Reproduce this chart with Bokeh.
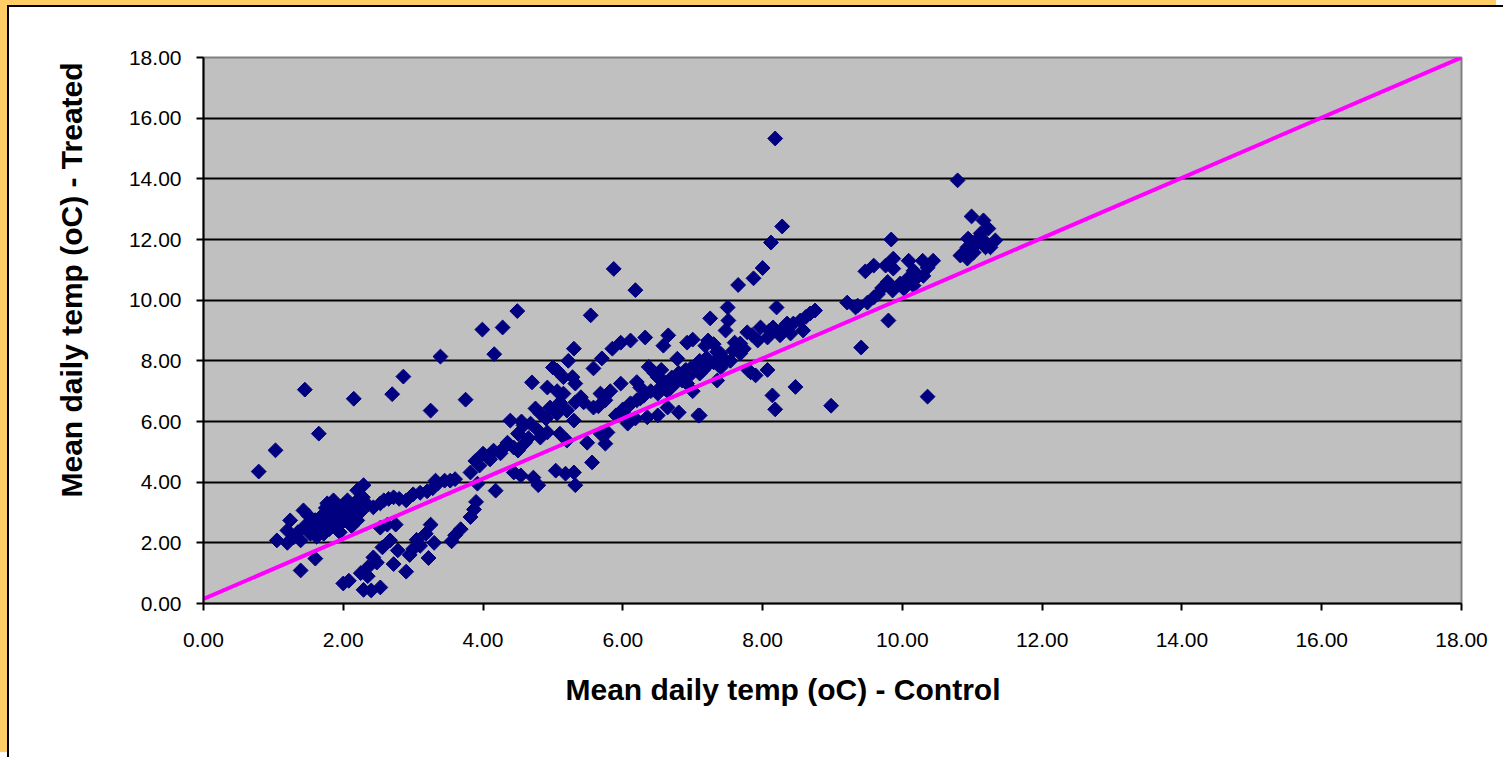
import numpy as np
from bokeh.plotting import figure
from bokeh.models import FixedTicker, NumeralTickFormatter, Range1d, Title
from bokeh.embed import file_html
from bokeh.resources import INLINE

# ---- data ----
outliers_x = [0.79, 1.03, 1.05, 1.45, 1.65, 2.15, 2.70, 2.86, 3.25, 3.39, 3.75, 3.99,
              4.16, 4.28, 4.49, 5.54, 5.87, 6.18, 8.18, 8.28, 8.12, 10.79, 9.84,
              9.80, 9.41, 8.98, 10.36, 8.47, 8.18, 8.14, 7.10, 8.07, 7.90, 7.80, 7.35]
outliers_y = [4.35, 5.05, 2.08, 7.05, 5.60, 6.75, 6.90, 7.48, 6.36, 8.14, 6.72, 9.03,
              8.22, 9.10, 9.64, 9.50, 11.03, 10.33, 15.33, 12.43, 11.90, 13.95, 12.00,
              9.33, 8.44, 6.52, 6.82, 7.14, 6.40, 6.86, 6.20, 7.70, 7.52, 7.68, 7.35]

left_x = [1.20, 1.24, 1.29, 1.20, 1.39, 1.39, 1.43, 1.53, 1.57, 1.60, 1.67, 1.72,
          1.77, 1.82, 1.86, 1.96, 1.96, 2.06, 2.10, 2.15, 2.20, 2.20, 2.29, 1.50,
          1.55, 1.60, 1.65, 1.70, 1.75, 1.80, 1.85, 1.88, 1.90, 1.93, 1.98, 2.00,
          2.03, 2.08, 2.12, 2.18, 2.24, 2.28, 1.45, 1.35, 1.75, 1.95, 2.00, 1.62]
left_y = [2.00, 2.74, 2.18, 2.41, 2.08, 1.09, 3.07, 2.30, 2.64, 1.48, 2.84, 2.30,
          3.30, 2.74, 3.40, 3.17, 2.64, 3.40, 2.84, 3.17, 2.74, 3.73, 3.90, 2.90,
          2.50, 2.75, 2.45, 2.60, 2.95, 2.45, 3.10, 2.80, 3.00, 2.55, 2.95, 3.25,
          2.75, 3.05, 2.55, 3.35, 3.00, 3.50, 2.55, 2.35, 3.15, 2.35, 2.85, 2.20]

band_low_x = [2.35, 2.43, 2.53, 2.58, 2.65, 2.72, 2.80, 2.90, 3.00, 3.10, 3.20, 3.28,
              3.35, 3.45, 3.53, 3.32, 3.60, 2.53, 2.63, 2.75]
band_low_y = [3.25, 3.17, 3.30, 3.40, 3.45, 3.50, 3.45, 3.40, 3.60, 3.65, 3.70, 3.80,
              3.95, 4.05, 4.05, 4.05, 4.10, 2.50, 2.60, 2.60]

branch_x = [2.00, 2.08, 2.29, 2.35, 2.40, 2.53, 2.35, 2.25, 2.43, 2.48, 2.56, 2.67,
            2.78, 2.72, 2.90, 2.95, 3.00, 3.05, 3.10, 3.18, 3.22, 3.25, 3.30, 3.55,
            3.60, 3.68, 3.82, 3.87, 3.90]
branch_y = [0.66, 0.75, 0.45, 0.90, 0.43, 0.53, 1.19, 1.00, 1.52, 1.35, 1.85, 2.08,
            1.75, 1.30, 1.05, 1.60, 1.80, 2.10, 1.90, 2.30, 1.50, 2.60, 2.00, 2.05,
            2.25, 2.45, 2.85, 3.10, 3.35]

mid_x = [3.82, 3.89, 3.92, 4.00, 4.08, 4.15, 4.30, 4.44, 4.50, 4.60, 4.39, 4.58,
         4.68, 4.75, 4.82, 4.96, 5.06, 4.79, 4.92, 5.10, 5.20, 4.82, 4.44, 4.54,
         4.72, 4.79, 5.04, 5.18, 5.30, 5.32, 4.18, 4.70, 4.92, 5.00, 5.06, 5.15,
         5.22, 5.30, 5.28, 5.32, 5.06, 5.15, 5.10, 5.20, 5.30, 5.32, 5.40, 5.44,
         4.35, 4.50, 4.65, 4.90, 4.25, 4.10, 3.95, 4.55]
mid_y = [4.32, 4.70, 3.95, 4.94, 4.81, 5.04, 5.14, 5.14, 5.04, 5.30, 6.03, 5.87,
         5.93, 6.43, 6.26, 6.46, 6.26, 5.70, 5.64, 5.60, 5.37, 5.47, 4.32, 4.22,
         4.15, 3.90, 4.38, 4.28, 4.32, 3.90, 3.72, 7.29, 7.12, 7.78, 7.68, 7.46,
         8.00, 8.40, 7.46, 7.25, 7.00, 6.92, 6.63, 6.36, 6.03, 6.63, 6.80, 6.63,
         5.30, 5.60, 5.45, 6.10, 4.95, 4.75, 4.55, 6.00]

upper_x = [5.56, 5.49, 5.75, 5.68, 5.78, 6.07, 6.18, 6.00, 5.58, 5.68, 5.82, 5.97,
           6.11, 6.25, 6.35, 6.50, 6.80, 7.08, 6.64, 6.64, 6.50, 6.25, 6.37, 6.50,
           6.78, 6.82, 6.92, 7.00, 7.10, 7.40, 7.58, 7.68, 6.97, 7.30, 7.20, 7.54,
           5.58, 5.70, 5.85, 5.97, 6.11, 6.32, 6.65, 6.58, 6.92, 7.00, 7.18, 7.25,
           6.00, 6.10, 6.20, 6.30, 6.40, 6.55, 6.60, 6.70, 6.80, 6.90, 7.05, 7.10,
           6.45, 6.55, 6.75, 6.85, 6.95, 7.15, 6.20, 5.90, 5.65, 5.75]
upper_y = [4.65, 5.30, 5.27, 5.60, 5.64, 5.93, 6.10, 6.30, 6.46, 6.92, 7.00, 7.25,
           6.60, 6.76, 6.14, 6.20, 6.30, 6.20, 6.46, 7.00, 6.92, 7.12, 7.80, 7.46,
           8.07, 7.46, 7.25, 7.00, 7.58, 7.78, 8.34, 8.57, 7.75, 7.95, 8.10, 8.00,
           7.75, 8.08, 8.40, 8.60, 8.67, 8.77, 8.84, 8.50, 8.60, 8.70, 8.50, 9.40,
           6.40, 6.55, 6.70, 6.85, 7.00, 7.15, 7.30, 7.45, 7.60, 7.70, 7.85, 8.00,
           7.60, 7.70, 7.25, 7.35, 7.50, 7.70, 7.30, 6.20, 6.50, 6.70]

high_x = [7.50, 7.51, 7.47, 7.65, 7.87, 8.00, 8.20, 7.78, 7.97, 8.15, 8.35, 8.54,
          8.68, 8.75, 8.58, 8.40, 8.25, 8.07, 7.93, 7.73, 7.68, 7.22, 7.18, 7.40,
          7.47, 7.83, 8.44, 8.62, 7.60, 7.85, 8.10, 8.30, 7.35, 7.30]
high_y = [9.76, 9.33, 9.00, 10.50, 10.72, 11.06, 9.76, 8.94, 9.10, 9.10, 9.23, 9.33,
          9.56, 9.66, 9.00, 8.90, 8.84, 8.77, 8.67, 8.40, 8.24, 8.67, 7.78, 8.24,
          8.00, 7.62, 9.23, 9.45, 8.60, 8.85, 9.00, 9.10, 8.30, 8.55]

warm_x = [9.21, 9.33, 9.36, 9.50, 9.59, 9.71, 9.79, 9.86, 9.97, 10.02, 10.07, 10.16,
          10.21, 10.16, 10.36, 9.47, 9.59, 9.76, 9.87, 9.87, 10.09, 10.29, 10.44, 10.30,
          9.65, 10.99, 11.16, 11.23, 11.33, 11.19, 11.07, 11.12, 10.94, 10.93, 10.87, 10.93,
          10.83, 11.02, 11.26, 11.05, 11.15]
warm_y = [9.92, 9.76, 9.82, 9.92, 10.09, 10.40, 10.60, 10.32, 10.55, 10.38, 10.70, 10.48,
          10.75, 10.97, 11.07, 10.95, 11.14, 11.14, 11.37, 11.04, 11.30, 11.30, 11.30, 10.80,
          10.20, 12.76, 12.63, 12.36, 11.97, 11.74, 11.87, 12.20, 12.03, 11.74, 11.54, 11.37,
          11.47, 11.57, 11.74, 11.95, 12.00]

line_x = [0.0, 18.0]
line_y = [0.15, 18.0]

tick_values = [0, 2, 4, 6, 8, 10, 12, 14, 16, 18]
grid_values = [2, 4, 6, 8, 10, 12, 14, 16]

x_title = "Mean daily  temp (oC) - Control"
y_title = "Mean daily temp (oC) - Treated"

control = outliers_x + left_x + band_low_x + branch_x + mid_x + upper_x + high_x + warm_x
treated = outliers_y + left_y + band_low_y + branch_y + mid_y + upper_y + high_y + warm_y
n = min(len(control), len(treated))
control = control[:n]
treated = treated[:n]

FONT = "Liberation Sans"

p = figure(width=1496, height=752, output_backend="svg", toolbar_location=None,
           x_range=Range1d(0, 18), y_range=Range1d(0, 18),
           min_border_left=194, min_border_right=44, min_border_top=50, min_border_bottom=156,
           background_fill_color="#C0C0C0", border_fill_color="white")
p.margin = (5, 0, 0, 7)
p.styles = {"border-left": "2px solid black", "border-top": "2px solid black",
            "box-shadow": "-7px -5px 0px 0px #FFCC66"}

p.outline_line_color = "#808080"
p.outline_line_width = 2

p.xgrid.visible = False
p.ygrid.ticker = FixedTicker(ticks=grid_values)
p.ygrid.grid_line_color = "black"
p.ygrid.grid_line_width = 2

for ax in (p.xaxis[0], p.yaxis[0]):
    ax.ticker = FixedTicker(ticks=tick_values)
    ax.formatter = NumeralTickFormatter(format="0.00")
    ax.axis_line_color = "black"
    ax.axis_line_width = 2
    ax.major_tick_line_color = "black"
    ax.major_tick_line_width = 2
    ax.major_tick_out = 7
    ax.major_tick_in = 0
    ax.minor_tick_line_color = None
    ax.major_label_text_font = FONT
    ax.major_label_text_font_size = "21px"
    ax.major_label_text_color = "black"

p.xaxis.major_label_standoff = 22
p.yaxis.major_label_standoff = 15

xt = Title(text=x_title, align="left", offset=362, standoff=42,
           text_font=FONT, text_font_size="30px", text_font_style="bold",
           text_color="black")
yt = Title(text=y_title, align="left", offset=106, standoff=71, vertical_align="top",
           text_font=FONT, text_font_size="30px", text_font_style="bold",
           text_color="black")
p.add_layout(xt, "below")
p.add_layout(yt, "left")

p.scatter(control, treated, marker="square", angle=np.pi / 4, size=10.5,
          fill_color="#000080", line_color="#000080", line_width=1)
p.line(line_x, line_y, line_color="#FF00FF", line_width=4)

open("out.html", "w").write(file_html(p, INLINE))
